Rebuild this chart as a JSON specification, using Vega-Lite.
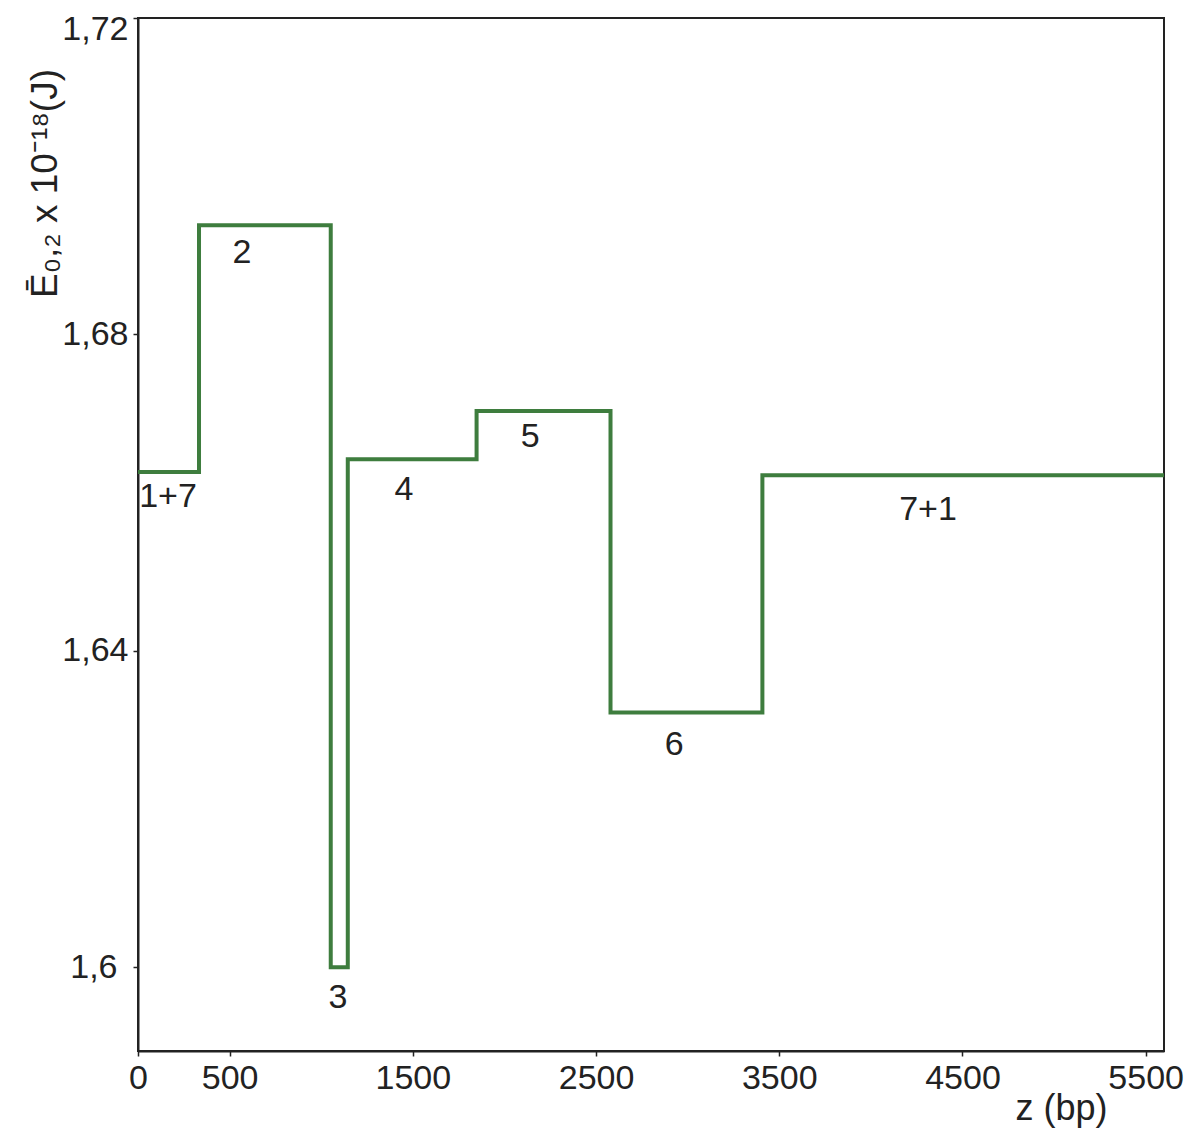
{
  "$schema": "https://vega.github.io/schema/vega-lite/v6.json",
  "autosize": "none",
  "width": 1026,
  "height": 1033,
  "padding": {"left": 138, "top": 18, "right": 38, "bottom": 81},
  "background": "white",
  "config": {
    "view": {"stroke": "#222", "strokeWidth": 2},
    "font": "Liberation Sans"
  },
  "datasets": {
    "steps": [
      {"z": 0, "E": 1.6626},
      {"z": 333, "E": 1.6938},
      {"z": 1052, "E": 1.6},
      {"z": 1145, "E": 1.6642},
      {"z": 1848, "E": 1.6703},
      {"z": 2579, "E": 1.6322},
      {"z": 3408, "E": 1.6622},
      {"z": 5600, "E": 1.6622}
    ],
    "labels": [
      {"z": 164, "E": 1.6594, "label": "1+7"},
      {"z": 568, "E": 1.6903, "label": "2"},
      {"z": 1092, "E": 1.5961, "label": "3"},
      {"z": 1452, "E": 1.6603, "label": "4"},
      {"z": 2140, "E": 1.667, "label": "5"},
      {"z": 2926, "E": 1.6281, "label": "6"},
      {"z": 4312, "E": 1.6578, "label": "7+1"}
    ]
  },
  "layer": [
    {
      "data": {"name": "steps"},
      "mark": {"type": "line", "interpolate": "step-after", "color": "#3e7d3e", "strokeWidth": 4, "clip": true},
      "encoding": {
        "x": {
          "field": "z", "type": "quantitative",
          "scale": {"domain": [0, 5600], "nice": false, "zero": false},
          "axis": {
            "values": [0, 500, 1500, 2500, 3500, 4500, 5500],
            "format": "d",
            "grid": false,
            "domainColor": "#222", "domainWidth": 2,
            "tickColor": "#222", "tickSize": 5, "tickWidth": 1.5,
            "labelFont": "Liberation Sans", "labelFontSize": 34, "labelColor": "#222",
            "labelPadding": 5, "labelFlush": false, "labelOverlap": false,
            "title": "z (bp)",
            "titleFont": "Liberation Sans", "titleFontSize": 36, "titleFontWeight": "normal", "titleColor": "#222",
            "titleAnchor": null, "titleAlign": "center", "titleBaseline": "alphabetic",
            "titleX": 923, "titleY": 68
          }
        },
        "y": {
          "field": "E", "type": "quantitative",
          "scale": {"domain": [1.5894, 1.72], "nice": false, "zero": false},
          "axis": {
            "values": [1.6, 1.64, 1.68, 1.72],
            "labelExpr": "replace(format(datum.value, '.2~f'), '.', ',')",
            "grid": false,
            "domainColor": "#222", "domainWidth": 2,
            "tickColor": "#222", "tickSize": 5, "tickWidth": 1.5,
            "labelFont": "Liberation Sans", "labelFontSize": 34, "labelColor": "#222",
            "labelPadding": {"condition": {"test": "datum.value < 1.61", "value": 16}, "value": 5},
            "labelFlush": 5, "labelFlushOffset": 6, "labelOverlap": false,
            "title": "Ē₀,₂ x 10⁻¹⁸(J)",
            "titleFont": "Liberation Sans", "titleFontSize": 37, "titleFontWeight": "normal", "titleColor": "#222",
            "titleAngle": 270, "titleAlign": "center", "titleBaseline": "middle",
            "titleX": -93, "titleY": 165
          }
        }
      }
    },
    {
      "data": {"name": "labels"},
      "mark": {"type": "text", "font": "Liberation Sans", "fontSize": 34, "color": "#222", "align": "center", "baseline": "middle"},
      "encoding": {
        "x": {"field": "z", "type": "quantitative"},
        "y": {"field": "E", "type": "quantitative"},
        "text": {"field": "label"}
      }
    }
  ]
}
